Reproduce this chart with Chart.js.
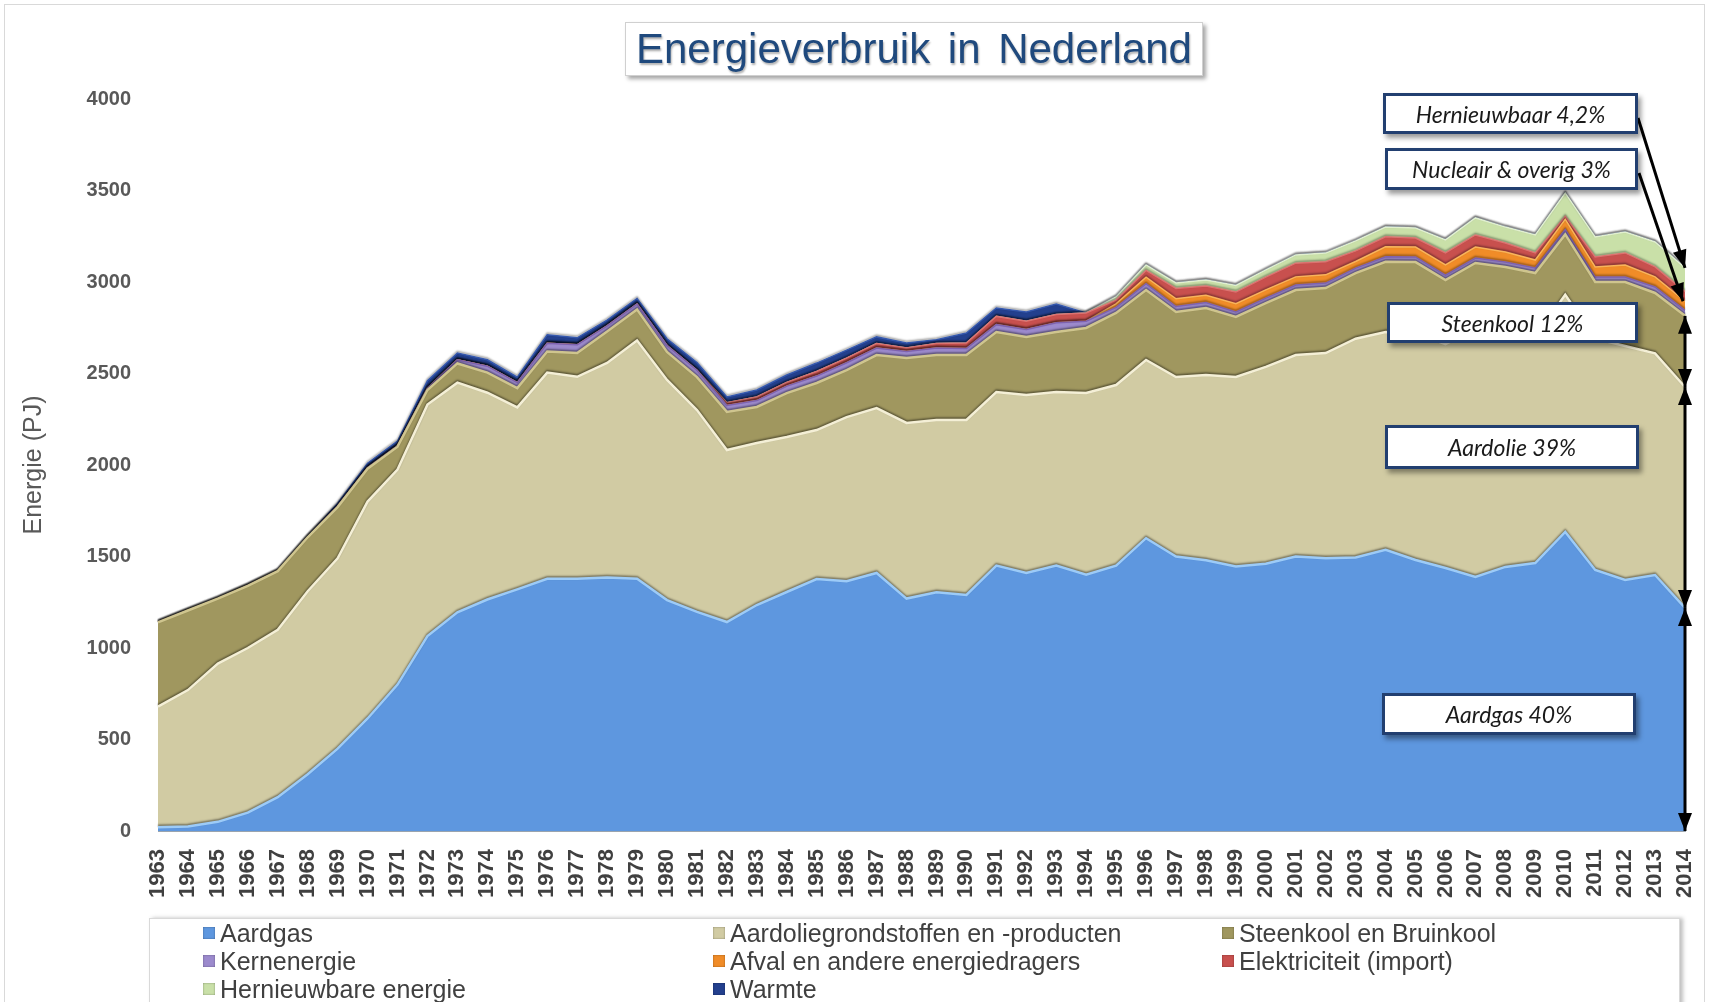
<!DOCTYPE html>
<html>
<head>
<meta charset="utf-8">
<script src="https://cdn.jsdelivr.net/npm/chart.js@4.4.0/dist/chart.umd.min.js"></script>
<style>
  body { margin: 0; background: #fff; }
  #wrap { position: relative; width: 1710px; height: 1002px; overflow: hidden; font-family: 'Liberation Sans', Arial, sans-serif; }
  #frame { position: absolute; left: 4px; top: 4px; width: 1701px; height: 1010px; border: 1px solid #d9d9d9; box-sizing: border-box; }
  canvas { position: absolute; left: 0; top: 0; }
  .title { position: absolute; left: 625px; top: 22px; width: 578px; height: 54px; box-sizing: border-box;
    border: 1px solid #d0d0d0; background: #fff; box-shadow: 3px 3px 4px rgba(0,0,0,0.35);
    color: #1F497D; font-size: 42px; line-height: 52px; text-align: center; word-spacing: 6px;
    text-shadow: 1px 2px 2px rgba(0,0,0,0.3); }
  .note { position: absolute; box-sizing: border-box; background: #fff; border: 3px solid #223F70;
    box-shadow: 3px 4px 5px rgba(0,0,0,0.4); font-family: Lato, 'Open Sans', sans-serif; font-style: italic;
    font-size: 23px; color: #1a1a1a; text-align: center; display: flex; align-items: center; justify-content: center; }
  #legend { position: absolute; left: 149px; top: 918px; width: 1531px; height: 110px; box-sizing: border-box;
    border: 1px solid #d9d9d9; background: #fff; box-shadow: 3px 0 4px rgba(0,0,0,0.25);
    display: grid; grid-template-columns: 510px 509px 500px; padding-left: 53px; grid-auto-rows: 28px; }
  #legend .item { display: flex; align-items: center; font-size: 25px; color: #404040; white-space: nowrap; }
  #legend .sw { display: inline-block; width: 12px; height: 12px; margin-right: 5px; box-shadow: inset 0 0 2px rgba(0,0,0,0.4); }
</style>
</head>
<body>
<div id="wrap">
  <div id="frame"></div>
  <canvas id="energyChart" width="1710" height="1002"></canvas>
  <div class="title">Energieverbruik in Nederland</div>
  <div class="note" style="left:1383px; top:93px; width:255px; height:41px;">Hernieuwbaar 4,2%</div>
  <div class="note" style="left:1385px; top:148px; width:253px; height:42px;">Nucleair &amp; overig 3%</div>
  <div class="note" style="left:1387px; top:302px; width:251px; height:41px;">Steenkool 12%</div>
  <div class="note" style="left:1385px; top:425px; width:254px; height:44px;">Aardolie 39%</div>
  <div class="note" style="left:1382px; top:693px; width:254px; height:42px;">Aardgas 40%</div>
  <div id="legend"></div>
</div>
<script>
// years on the x axis
const years = ['1963','1964','1965','1966','1967','1968','1969','1970','1971','1972',
  '1973','1974','1975','1976','1977','1978','1979','1980','1981','1982',
  '1983','1984','1985','1986','1987','1988','1989','1990','1991','1992',
  '1993','1994','1995','1996','1997','1998','1999','2000','2001','2002',
  '2003','2004','2005','2006','2007','2008','2009','2010','2011','2012',
  '2013','2014'];

// energy use per source (PJ)
const aardgas = [20,25,50,100,185,310,450,615,800,1065,
  1195,1265,1320,1378,1378,1385,1378,1262,1197,1142,
  1235,1306,1377,1365,1410,1270,1305,1290,1450,1410,
  1450,1400,1450,1600,1500,1480,1445,1460,1500,1490,
  1495,1536,1481,1437,1388,1443,1464,1634,1426,1372,
  1399,1219];
const aardolie = [660,745,865,900,915,1000,1040,1185,1175,1265,
  1255,1130,995,1127,1104,1173,1302,1203,1103,940,
  885,847,814,897,901,960,941,956,949,973,
  949,993,987,974,981,1012,1036,1076,1101,1122,
  1195,1191,1239,1223,1352,1317,1236,1296,1264,1278,
  1211,1207];
const steenkool = [460,435,355,340,320,295,280,180,125,80,
  105,110,105,115,130,172,170,153,180,208,
  197,240,257,257,290,355,355,355,328,317,
  328,356,394,382,355,366,328,349,355,355,
  359,383,389,351,364,322,349,330,310,350,
  330,389];
const kernenergie = [0,0,0,0,0,0,5,5,5,10,
  20,35,30,45,45,30,30,35,38,35,
  35,38,38,40,38,35,38,35,40,40,
  50,37,30,35,30,30,27,27,27,27,
  27,28,28,27,27,27,28,27,27,27,
  33,30];
const afval = [0,0,0,0,0,0,0,0,0,0,
  0,0,0,0,0,0,0,0,0,0,
  0,0,0,0,0,0,0,0,0,0,
  0,0,20,35,42,40,45,45,45,45,
  36,54,54,55,60,55,43,55,55,66,
  55,50];
const elektriciteit = [0,0,0,0,0,0,0,0,0,0,
  0,0,0,0,0,0,0,0,0,15,
  20,20,25,25,25,20,25,30,45,45,
  45,45,20,37,57,50,64,70,75,72,
  58,55,49,66,66,49,39,16,55,66,
  55,52];
const hernieuwbaar = [0,0,0,0,0,0,0,0,0,0,
  0,0,0,0,0,0,0,0,0,0,
  0,0,0,0,0,0,0,0,0,0,
  0,0,17,30,30,33,36,39,45,47,
  55,53,55,71,93,87,98,128,109,114,
  136,130];
const warmte = [0,0,0,0,0,5,15,25,25,40,
  37,35,30,47,38,32,30,37,42,32,
  38,41,46,44,36,27,21,55,46,51,
  58,0,0,0,0,0,0,0,0,0,
  0,0,0,0,0,0,0,0,0,0,
  0,0];

const seriesNames = ['Aardgas', 'Aardoliegrondstoffen en -producten', 'Steenkool en Bruinkool', 'Kernenergie',
  'Afval en andere energiedragers', 'Elektriciteit (import)', 'Hernieuwbare energie', 'Warmte'];
const seriesData = [aardgas, aardolie, steenkool, kernenergie, afval, elektriciteit, hernieuwbaar, warmte];
const fillColors = ['#5E97DF', '#D1CBA3', '#A0975F', '#9C8ACD', '#F08C28', '#C8504E', '#C9E0A8', '#23408E'];
const edgeColors = ['#9CCBF8', '#F4EFD6', '#CFC58E', '#7E62B0', '#F8B45A', '#DD7270', '#E2F0CF', '#3558AE'];

// dark line above each area edge, like the bevel in the original
const edgeShadow = {
  id: 'edgeShadow',
  beforeDatasetDraw(chart) {
    const ctx = chart.ctx;
    ctx.save();
    ctx.shadowColor = 'rgba(0,0,0,0.45)';
    ctx.shadowBlur = 2;
    ctx.shadowOffsetY = -1.5;
  },
  afterDatasetDraw(chart) {
    chart.ctx.restore();
  }
};

function arrowHead(ctx, x1, y1, x2, y2) {
  const a = Math.atan2(y2 - y1, x2 - x1);
  const len = 18, half = 7;
  ctx.beginPath();
  ctx.moveTo(x2, y2);
  ctx.lineTo(x2 - len * Math.cos(a) + half * Math.sin(a), y2 - len * Math.sin(a) - half * Math.cos(a));
  ctx.lineTo(x2 - len * Math.cos(a) - half * Math.sin(a), y2 - len * Math.sin(a) + half * Math.cos(a));
  ctx.closePath();
  ctx.fill();
}

function arrow(ctx, x1, y1, x2, y2, both) {
  ctx.beginPath();
  ctx.moveTo(x1, y1);
  ctx.lineTo(x2, y2);
  ctx.stroke();
  arrowHead(ctx, x1, y1, x2, y2);
  if (both) arrowHead(ctx, x2, y2, x1, y1);
}

// arrows pointing at the 2014 shares
const shareArrows = {
  id: 'shareArrows',
  afterDraw(chart) {
    const {ctx, scales: {x, y}} = chart;
    const last = years.length - 1;
    const px = x.getPixelForValue(last);
    let cum = 0;
    const tops = seriesData.map(d => (cum += d[last]));
    ctx.save();
    ctx.strokeStyle = '#000';
    ctx.fillStyle = '#000';
    ctx.lineWidth = 3;
    arrow(ctx, px, y.getPixelForValue(0), px, y.getPixelForValue(tops[0]), true);
    arrow(ctx, px, y.getPixelForValue(tops[0]), px, y.getPixelForValue(tops[1]), true);
    arrow(ctx, px, y.getPixelForValue(tops[1]), px, y.getPixelForValue(tops[2]), true);
    arrow(ctx, 1639, 173, px - 2, y.getPixelForValue(tops[4]), false);
    arrow(ctx, 1638, 118, px, y.getPixelForValue(tops[7]), false);
    ctx.restore();
  }
};

const chart = new Chart('energyChart', {
  type: 'line',
  data: {
    labels: years,
    datasets: seriesData.map((d, i) => ({
      label: seriesNames[i],
      data: d,
      backgroundColor: fillColors[i],
      borderColor: edgeColors[i],
      borderWidth: i < 3 ? 2.5 : 1.5,
      fill: i === 0 ? 'origin' : '-1',
      pointRadius: 0,
      tension: 0
    }))
  },
  options: {
    responsive: false,
    animation: false,
    layout: { padding: { top: 99, right: 25, bottom: 81, left: 0 } },
    plugins: {
      legend: { display: false },
      tooltip: { enabled: false }
    },
    scales: {
      x: {
        grid: { display: false, drawTicks: false },
        border: { color: '#9AA4AE', width: 1 },
        ticks: {
          autoSkip: false, minRotation: 90, maxRotation: 90, padding: 18,
          color: '#404040', font: { family: "'Liberation Sans', Arial", size: 22, weight: 'bold' }
        },
        afterFit(scale) {
          scale.height = 90;
          scale.paddingLeft = 0;
          scale.paddingRight = 0;
        }
      },
      y: {
        stacked: true,
        min: 0, max: 4000,
        grid: { display: false, drawTicks: false },
        border: { display: false },
        ticks: {
          stepSize: 500, padding: 27,
          color: '#595959', font: { family: "'Liberation Sans', Arial", size: 20, weight: 'bold' },
          callback: v => String(v)
        },
        title: {
          display: true, text: 'Energie (PJ)', color: '#595959',
          font: { family: "'Liberation Sans', Arial", size: 25 }, padding: { top: 19 }
        },
        afterFit(scale) { scale.width = 158; }
      }
    }
  },
  plugins: [edgeShadow, shareArrows]
});

// legend in three columns, built from the datasets
const legendEl = document.getElementById('legend');
chart.data.datasets.forEach(ds => {
  const item = document.createElement('div');
  item.className = 'item';
  const sw = document.createElement('span');
  sw.className = 'sw';
  sw.style.background = ds.backgroundColor;
  item.appendChild(sw);
  item.appendChild(document.createTextNode(ds.label));
  legendEl.appendChild(item);
});
</script>
</body>
</html>
